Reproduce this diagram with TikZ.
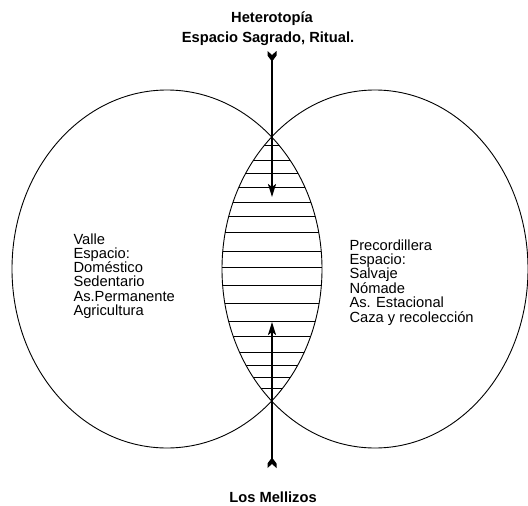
\documentclass[tikz,border=0pt]{standalone}
\usepackage{fontspec}
\setmainfont{Liberation Sans}
\usetikzlibrary{arrows.meta}
\begin{document}
\begin{tikzpicture}[x=1pt,y=-1pt,
  outline/.style={line width=0.9pt},
  hatch/.style={line width=0.8pt},
  axis/.style={line width=2pt},
  tip/.style={-{Stealth[length=13pt,width=8pt,inset=3pt]}},
  feather/.style={fill=black,draw=none},
  title/.style={font=\fontsize{14.7}{17}\selectfont\bfseries,inner sep=0pt,anchor=base},
  body/.style={font=\fontsize{14.7}{14.3}\selectfont,inner sep=0pt,anchor=base west}]
\useasboundingbox (0,0) rectangle (528,506);
% ellipses
\draw[outline] (167,269) ellipse [x radius=155, y radius=179];
\draw[outline] (375,269) ellipse [x radius=153, y radius=179];
% hatching of the lens
\begin{scope}
  \clip (167,269) ellipse [x radius=155, y radius=179];
  \clip (375,269) ellipse [x radius=153, y radius=179];
  \foreach \yy in {145,160,173,187,202,216,232,251,267,285,303,321,336,352,365,377,388}
    \draw[hatch] (210,\yy) -- (335,\yy);
\end{scope}
% arrows
\coordinate (ttail) at (272,58);
\coordinate (ttip) at (272,197);
\coordinate (btail) at (272,461);
\coordinate (btip) at (272,322);
\draw[axis,tip] (ttail) -- (ttip);
\draw[axis,tip] (btail) -- (btip);
\fill[feather] (267.5,51) -- (272,55) -- (276.5,51) -- (276.5,55.5) -- (273.2,60) -- (270.8,60) -- (267.5,55.5) -- cycle;
\fill[feather] (267.5,468) -- (272,464) -- (276.5,468) -- (276.5,463.5) -- (273.2,459) -- (270.8,459) -- (267.5,463.5) -- cycle;
% texts
\node[title] (h1) at (272,23) {Heterotopía};
\node[title] (h2) at (268,42) {Espacio Sagrado, Ritual.};
\node[title] (lm) at (273,502.5) {Los Mellizos};
\node[body] (valle) at (73.3,244) {\vtop{\baselineskip=14.3pt\lineskiplimit=-10pt
  \hbox{Valle}\hbox{Espacio:}\hbox{Doméstico}\hbox{Sedentario}\hbox{As.Permanente}\hbox{Agricultura}}};
\node[body] (prec) at (349.3,250) {\vtop{\baselineskip=14.4pt\lineskiplimit=-10pt
  \hbox{Precordillera}\hbox{Espacio:}\hbox{Salvaje}\hbox{Nómade}\hbox{As. Estacional}\hbox{Caza y recolección}}};
\end{tikzpicture}
\end{document}
